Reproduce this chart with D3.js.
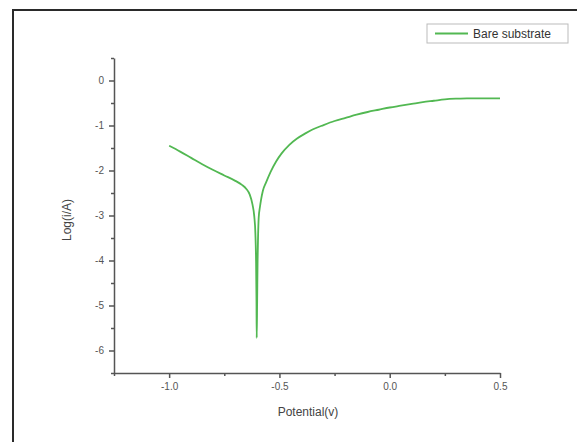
<!DOCTYPE html>
<html>
<head>
<meta charset="utf-8">
<script src="https://cdn.jsdelivr.net/npm/d3@7"></script>
<style>
  body { margin: 0; background: #fff; }
  svg { display: block; font-family: Arial, "Liberation Sans", sans-serif; }
</style>
</head>
<body>
<div id="chart"></div>
<script>
// Tafel curve
const potential = [-1.0, -0.95, -0.9, -0.85, -0.8, -0.75, -0.7, -0.67, -0.65, -0.635,
  -0.622, -0.614, -0.609, -0.606, -0.604, -0.603, -0.601, -0.599, -0.597, -0.594,
  -0.588, -0.583, -0.575, -0.56, -0.54, -0.515, -0.49, -0.455, -0.42, -0.38,
  -0.35, -0.3, -0.25, -0.2, -0.15, -0.1, -0.05, 0.0, 0.05, 0.1,
  0.15, 0.2, 0.25, 0.3, 0.35, 0.4, 0.45, 0.5];
const logI = [-1.45, -1.58, -1.72, -1.86, -1.99, -2.11, -2.23, -2.32, -2.41, -2.53,
  -2.76, -3.02, -3.4, -4.0, -4.9, -5.72, -4.9, -4.0, -3.5, -3.05,
  -2.8, -2.64, -2.45, -2.26, -2.03, -1.8, -1.62, -1.43, -1.29, -1.17,
  -1.09, -0.99, -0.9, -0.83, -0.76, -0.7, -0.65, -0.6, -0.56, -0.52,
  -0.48, -0.45, -0.42, -0.405, -0.398, -0.395, -0.395, -0.395];

const xTicks = [-1.0, -0.5, 0.0, 0.5];
const xMinor = [-1.25, -0.75, -0.25, 0.25];
const yTicks = [0, -1, -2, -3, -4, -5, -6];
const yMinor = [0.5, -0.5, -1.5, -2.5, -3.5, -4.5, -5.5, -6.5];
const seriesName = 'Bare substrate';

const width = 577, height = 442;
const margin = { top: 58, right: 77, bottom: 69, left: 114 };

const svg = d3.select('#chart').append('svg')
  .attr('width', width)
  .attr('height', height);

// outer frame (runs off the right and bottom edges)
svg.append('rect')
  .attr('x', 13).attr('y', 10)
  .attr('width', 620).attr('height', 500)
  .attr('fill', 'none')
  .attr('stroke', '#2a2a2a')
  .attr('stroke-width', 2);

const x = d3.scaleLinear()
  .domain([-1.25, 0.5])
  .range([margin.left, width - margin.right]);
const y = d3.scaleLinear()
  .domain([-6.5, 0.5])
  .range([height - margin.bottom, margin.top]);

const axisColor = '#555';

// minor ticks first, then majors on top
svg.append('g')
  .attr('transform', `translate(0,${height - margin.bottom})`)
  .call(d3.axisBottom(x).tickValues(xMinor).tickSize(3).tickFormat(''))
  .call(g => g.select('.domain').remove());
svg.append('g')
  .attr('transform', `translate(${margin.left},0)`)
  .call(d3.axisLeft(y).tickValues(yMinor).tickSize(3).tickFormat(''))
  .call(g => g.select('.domain').remove());

svg.append('g')
  .attr('transform', `translate(0,${height - margin.bottom})`)
  .call(d3.axisBottom(x).tickValues(xTicks).tickSize(5).tickSizeOuter(0)
    .tickPadding(5).tickFormat(d3.format('.1f')));
svg.append('g')
  .attr('transform', `translate(${margin.left},0)`)
  .call(d3.axisLeft(y).tickValues(yTicks).tickSize(5).tickSizeOuter(0)
    .tickPadding(5).tickFormat(d => d));

svg.selectAll('.tick line, .domain')
  .attr('stroke', axisColor)
  .attr('stroke-width', 1.5);
svg.selectAll('.tick text')
  .attr('fill', '#555')
  .style('font-size', '10px')
  .text(function () { return d3.select(this).text().replace('−', '-'); });

// axis titles
svg.append('text')
  .attr('x', 308).attr('y', 416)
  .attr('text-anchor', 'middle')
  .attr('fill', '#444')
  .style('font-size', '12px')
  .text('Potential(v)');
svg.append('text')
  .attr('transform', 'translate(71,220) rotate(-90)')
  .attr('text-anchor', 'middle')
  .attr('fill', '#444')
  .style('font-size', '12px')
  .text('Log(i/A)');

// curve
const data = potential.map((p, i) => ({ p: p, v: logI[i] }));
const line = d3.line()
  .x(d => x(d.p))
  .y(d => y(d.v))
  .curve(d3.curveMonotoneX);

svg.append('path')
  .datum(data)
  .attr('d', line)
  .attr('fill', 'none')
  .attr('stroke', '#52b852')
  .attr('stroke-width', 1.8);

// legend
const legend = svg.append('g').attr('transform', 'translate(427,24)');
legend.append('rect')
  .attr('width', 141).attr('height', 19)
  .attr('fill', '#fff')
  .attr('stroke', '#bbb')
  .attr('stroke-width', 1);
legend.append('line')
  .attr('x1', 8).attr('x2', 41)
  .attr('y1', 9.5).attr('y2', 9.5)
  .attr('stroke', '#52b852')
  .attr('stroke-width', 1.8);
legend.append('text')
  .attr('x', 46).attr('y', 14)
  .attr('fill', '#333')
  .style('font-size', '12px')
  .text(seriesName);
</script>
</body>
</html>
